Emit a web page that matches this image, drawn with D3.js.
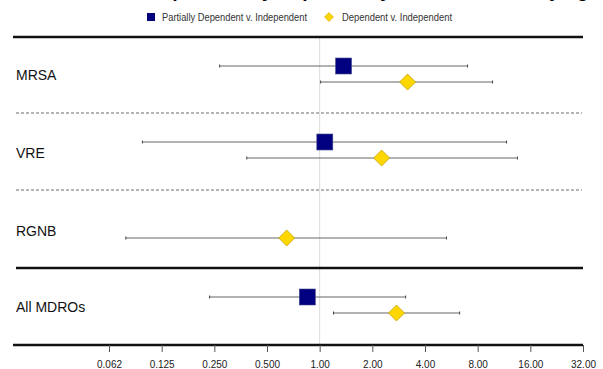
<!DOCTYPE html>
<html>
<head>
<meta charset="utf-8">
<script src="https://cdn.jsdelivr.net/npm/d3@7"></script>
<style>
  body { margin: 0; background: #fff; }
  svg { display: block; font-family: "Liberation Sans", Arial, sans-serif; }
</style>
</head>
<body>
<svg id="chart" width="603" height="369"></svg>
<script>
// data
const groups = ["MRSA", "VRE", "RGNB", "All MDROs"];
const partialEst = [1.37, 1.07, null, 0.85];
const partialLow = [0.268, 0.097, null, 0.235];
const partialHigh = [7.0, 11.7, null, 3.10];
const depEst = [3.18, 2.26, 0.648, 2.75];
const depLow = [1.013, 0.383, 0.078, 1.20];
const depHigh = [9.73, 13.5, 5.31, 6.31];
const tickValues = [0.0625, 0.125, 0.25, 0.5, 1, 2, 4, 8, 16, 32];
const tickLabels = ["0.062", "0.125", "0.250", "0.500", "1.00", "2.00", "4.00", "8.00", "16.00", "32.00"];

const plotLeft = 13, plotRight = 583;
const plotTop = 37, axisY = 345;

const svg = d3.select("#chart");

// title of the original figure, cropped off at the top edge
svg.append("text")
  .attr("x", 300).attr("y", -3)
  .attr("text-anchor", "middle")
  .style("font-size", "19px").style("font-weight", "bold")
  .text("Figure 2. Odds of MDRO Acquisition by Dependency Level and Underlying Organism");

const x = d3.scaleLog().base(2)
  .domain([1 / 16, 32])
  .range([109, plotRight]);

// square diamond (rotated square), r = half diagonal
const diamond = r => `M0,${-r}L${r},0L0,${r}L${-r},0Z`;

// legend
const legend = svg.append("g").attr("transform", "translate(0,17)");
legend.append("rect").attr("x", 147).attr("y", -4).attr("width", 8).attr("height", 8)
  .attr("fill", "#000080");
legend.append("text").attr("x", 162).attr("y", 4).style("font-size", "10px").attr("fill", "#333")
  .attr("textLength", 145).attr("lengthAdjust", "spacingAndGlyphs")
  .text("Partially Dependent v. Independent");
legend.append("path").attr("d", diamond(4.5))
  .attr("transform", "translate(329,0)")
  .attr("fill", "#ffd700").attr("stroke", "#c9a800").attr("stroke-width", 0.6);
legend.append("text").attr("x", 342).attr("y", 4).style("font-size", "10px").attr("fill", "#333")
  .attr("textLength", 110).attr("lengthAdjust", "spacingAndGlyphs")
  .text("Dependent v. Independent");

// reference line at 1
svg.append("line")
  .attr("x1", x(1)).attr("x2", x(1)).attr("y1", plotTop).attr("y2", axisY)
  .attr("stroke", "#dcdcdc").attr("stroke-width", 1);

// separators
svg.append("line").attr("x1", plotLeft).attr("x2", plotRight).attr("y1", plotTop).attr("y2", plotTop)
  .attr("stroke", "#111").attr("stroke-width", 2.5);
svg.append("line").attr("x1", 16).attr("x2", plotRight).attr("y1", 268).attr("y2", 268)
  .attr("stroke", "#111").attr("stroke-width", 2.5);
[113, 190].forEach(y => {
  svg.append("line").attr("x1", 16).attr("x2", 582).attr("y1", y).attr("y2", y)
    .attr("stroke", "#444").attr("stroke-width", 0.8).attr("stroke-dasharray", "3,2");
});

// group labels
svg.selectAll(".grp")
  .data(groups)
  .join("text")
  .attr("class", "grp")
  .attr("x", 16)
  .attr("y", (d, i) => [80, 158, 236, 312][i])
  .style("font-size", "14px").attr("fill", "#111")
  .text(d => d);

const yOff = { partial: -9, dep: 7 };
const centres = [75, 151, 231, 306];

function ciRows(est, low, high, key) {
  return groups.map((g, i) => ({ g, est: est[i], low: low[i], high: high[i], y: centres[i] + yOff[key] }))
    .filter(d => d.est != null);
}

const partialRows = ciRows(partialEst, partialLow, partialHigh, "partial");
const depRows = ciRows(depEst, depLow, depHigh, "dep");

function drawCI(rows, cls) {
  const g = svg.append("g").attr("class", cls);
  g.selectAll("line.ci").data(rows).join("line").attr("class", "ci")
    .attr("x1", d => x(d.low)).attr("x2", d => x(d.high))
    .attr("y1", d => d.y).attr("y2", d => d.y)
    .attr("stroke", "#666").attr("stroke-width", 1);
  g.selectAll("line.capL").data(rows).join("line").attr("class", "capL")
    .attr("x1", d => x(d.low)).attr("x2", d => x(d.low))
    .attr("y1", d => d.y - 1.5).attr("y2", d => d.y + 1.5)
    .attr("stroke", "#444");
  g.selectAll("line.capR").data(rows).join("line").attr("class", "capR")
    .attr("x1", d => x(d.high)).attr("x2", d => x(d.high))
    .attr("y1", d => d.y - 1.5).attr("y2", d => d.y + 1.5)
    .attr("stroke", "#444");
  return g;
}

drawCI(partialRows, "partial").selectAll("rect").data(partialRows).join("rect")
  .attr("x", d => x(d.est) - 8).attr("y", d => d.y - 8)
  .attr("width", 16).attr("height", 16)
  .attr("fill", "#000080").attr("stroke", "#4a4a8a").attr("stroke-width", 0.6);

drawCI(depRows, "dep").selectAll("path").data(depRows).join("path")
  .attr("d", diamond(8))
  .attr("transform", d => `translate(${x(d.est)},${d.y})`)
  .attr("fill", "#ffd700").attr("stroke", "#b89a00").attr("stroke-width", 0.7);

// x axis
svg.append("line").attr("x1", plotLeft).attr("x2", plotRight).attr("y1", axisY).attr("y2", axisY)
  .attr("stroke", "#111").attr("stroke-width", 2.5);
const axis = svg.append("g")
  .attr("transform", `translate(0,${axisY})`)
  .call(d3.axisBottom(x).tickValues(tickValues).tickFormat((d, i) => tickLabels[i]).tickSize(7).tickPadding(9));
axis.select(".domain").remove();
axis.selectAll(".tick line").attr("stroke", "#555");
axis.selectAll(".tick text").style("font-size", "10px").attr("fill", "#222")
  .style("font-family", "\"Liberation Sans\", Arial, sans-serif");
</script>
</body>
</html>
